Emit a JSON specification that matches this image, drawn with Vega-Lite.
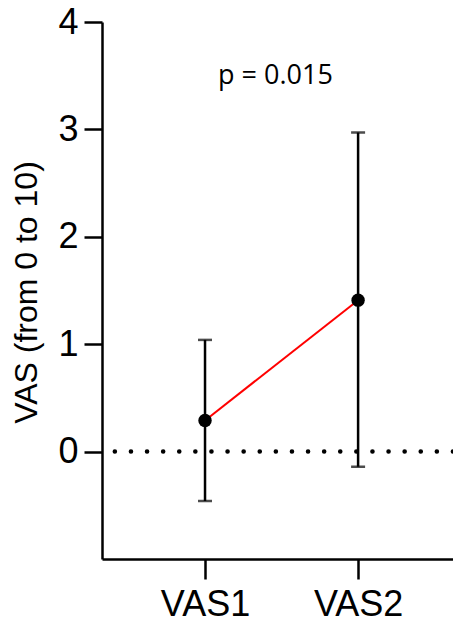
{
  "$schema": "https://vega.github.io/schema/vega-lite/v6.json",
  "width": 351,
  "height": 537,
  "autosize": {"type": "none"},
  "padding": {"left": 102, "top": 22, "right": 0, "bottom": 65},
  "background": "white",
  "config": {
    "view": {"stroke": null},
    "axis": {
      "grid": false,
      "domainColor": "black",
      "domainWidth": 2.5,
      "tickColor": "black",
      "tickWidth": 2.5,
      "labelColor": "black",
      "labelFont": "Liberation Sans",
      "labelFontSize": 36,
      "titleFont": "Liberation Sans",
      "titleColor": "black",
      "titleFontWeight": "normal"
    }
  },
  "datasets": {
    "stats": [
      {"group": "VAS1", "pos": 1, "mean": 0.29, "lo": -0.46, "hi": 1.04},
      {"group": "VAS2", "pos": 2, "mean": 1.41, "lo": -0.14, "hi": 2.97}
    ],
    "ref": [{"level": 0}],
    "note": [{"pos": 1.46, "y": 3.5, "label": "p = 0.015"}]
  },
  "layer": [
    {
      "data": {"name": "ref"},
      "mark": {"type": "rule", "color": "black", "strokeWidth": 4.5, "strokeDash": [0.1, 16], "strokeCap": "round"},
      "encoding": {
        "y": {"field": "level", "type": "quantitative"}
      }
    },
    {
      "data": {"name": "stats"},
      "mark": {"type": "rule", "color": "black", "strokeWidth": 2.5},
      "encoding": {
        "x": {
          "field": "pos", "type": "quantitative",
          "scale": {"domain": [0.327, 2.62], "nice": false, "zero": false},
          "axis": {
            "title": null, "values": [1, 2], "tickSize": 20, "labelPadding": 8,
            "labelExpr": "datum.value == 1 ? 'VAS1' : 'VAS2'"
          }
        },
        "y": {
          "field": "lo", "type": "quantitative",
          "scale": {"domain": [-1, 4], "nice": false, "zero": false},
          "axis": {
            "title": "VAS (from 0 to 10)", "values": [0, 1, 2, 3, 4], "format": "d", "tickSize": 18,
            "labelPadding": 6, "titleFontSize": 32, "titleX": -66, "titleY": 270,
            "titleAngle": -90, "titleAlign": "center", "titleBaseline": "alphabetic"
          }
        },
        "y2": {"field": "hi"}
      }
    },
    {
      "data": {"name": "stats"},
      "mark": {"type": "tick", "orient": "horizontal", "color": "black", "size": 14, "thickness": 2.5},
      "encoding": {
        "x": {"field": "pos", "type": "quantitative"},
        "y": {"field": "lo", "type": "quantitative"}
      }
    },
    {
      "data": {"name": "stats"},
      "mark": {"type": "tick", "orient": "horizontal", "color": "black", "size": 14, "thickness": 2.5},
      "encoding": {
        "x": {"field": "pos", "type": "quantitative"},
        "y": {"field": "hi", "type": "quantitative"}
      }
    },
    {
      "data": {"name": "stats"},
      "mark": {"type": "line", "color": "#ff0000", "strokeWidth": 2},
      "encoding": {
        "x": {"field": "pos", "type": "quantitative"},
        "y": {"field": "mean", "type": "quantitative"}
      }
    },
    {
      "data": {"name": "stats"},
      "mark": {"type": "point", "shape": "circle", "filled": true, "color": "black", "opacity": 1, "size": 180},
      "encoding": {
        "x": {"field": "pos", "type": "quantitative"},
        "y": {"field": "mean", "type": "quantitative"}
      }
    },
    {
      "data": {"name": "note"},
      "mark": {"type": "text", "font": "Open Sans", "fontSize": 27, "color": "black", "align": "center", "baseline": "middle"},
      "encoding": {
        "x": {"field": "pos", "type": "quantitative"},
        "y": {"field": "y", "type": "quantitative"},
        "text": {"field": "label"}
      }
    }
  ]
}
